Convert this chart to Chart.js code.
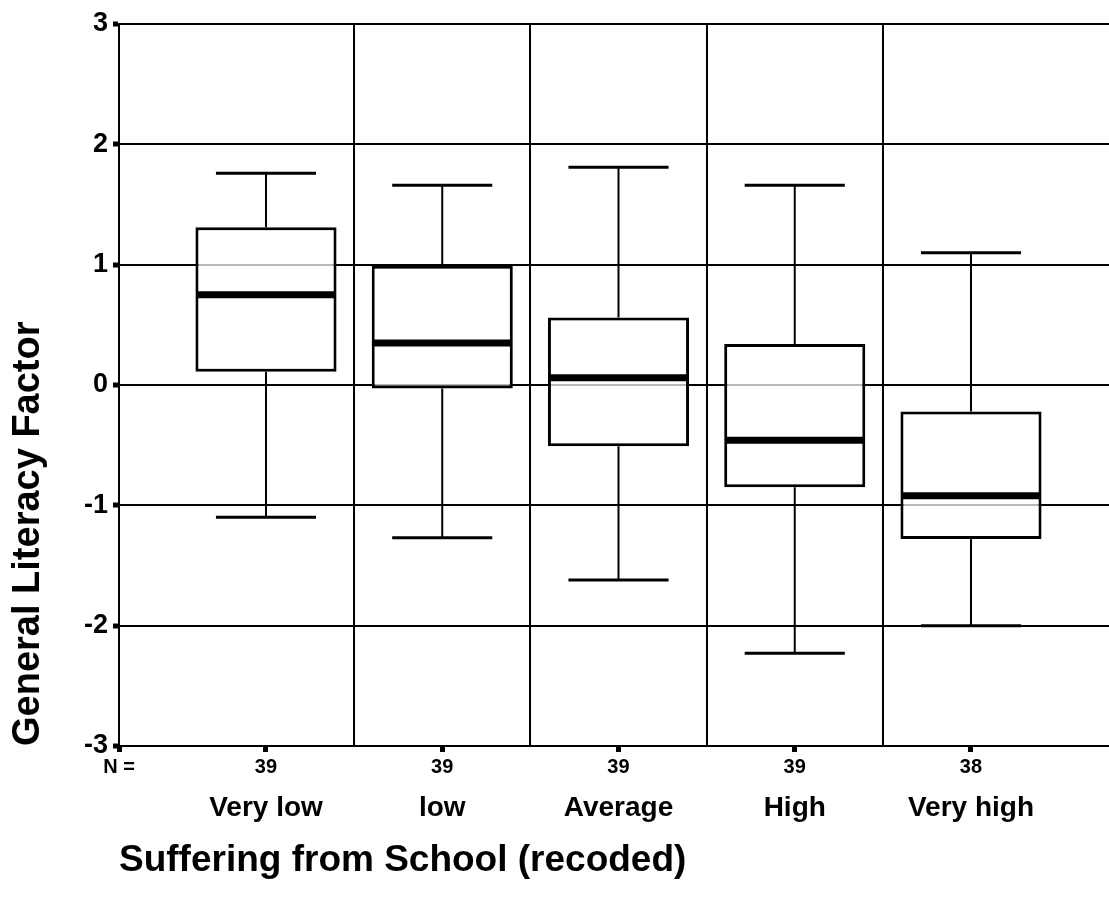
<!DOCTYPE html>
<html lang="en">
<head>
    <meta charset="UTF-8">
    <title>General Literacy Factor by Suffering from School</title>
    <style>
        body {
            margin: 0;
            background-color: #ffffff;
        }
        #boxChart {
            display: block;
        }
    </style>
    <script src="https://cdn.jsdelivr.net/npm/chart.js"></script>
</head>
<body>

    <canvas id="boxChart" width="1109" height="916"></canvas>

    <script>
    // Daten
    const categories = ['Very low', 'low', 'Average', 'High', 'Very high'];
    const nCounts = [39, 39, 39, 39, 38];
    const whiskerLow = [-1.10, -1.27, -1.62, -2.23, -2.00];
    const q1 = [0.11, -0.03, -0.51, -0.85, -1.28];
    const medians = [0.75, 0.35, 0.06, -0.46, -0.92];
    const q3 = [1.31, 0.99, 0.56, 0.34, -0.22];
    const whiskerHigh = [1.76, 1.66, 1.81, 1.66, 1.10];
    const yTicks = [-3, -2, -1, 0, 1, 2, 3];

    const xPos = categories.map((c, i) => i + 1);
    const xMin = 0.166;
    const xMax = 5.783;
    const fontFamily = 'Arial, "Liberation Sans", sans-serif';

    // Whisker und Median über die Skalen zeichnen
    const boxPlotLines = {
        id: 'boxPlotLines',
        afterDatasetsDraw(chart) {
            const { ctx, scales: { x, y } } = chart;
            const bars = chart.getDatasetMeta(0).data;
            const capHalf = (x.getPixelForValue(1.284) - x.getPixelForValue(1));
            ctx.save();
            ctx.strokeStyle = '#000';
            xPos.forEach((pos, i) => {
                const px = x.getPixelForValue(pos);
                const half = bars[i].width / 2;

                // Whisker
                ctx.lineWidth = 2;
                ctx.beginPath();
                ctx.moveTo(px, y.getPixelForValue(q3[i]));
                ctx.lineTo(px, y.getPixelForValue(whiskerHigh[i]));
                ctx.moveTo(px, y.getPixelForValue(q1[i]));
                ctx.lineTo(px, y.getPixelForValue(whiskerLow[i]));
                ctx.stroke();

                // Kappen
                ctx.lineWidth = 3;
                ctx.beginPath();
                ctx.moveTo(px - capHalf, y.getPixelForValue(whiskerHigh[i]));
                ctx.lineTo(px + capHalf, y.getPixelForValue(whiskerHigh[i]));
                ctx.moveTo(px - capHalf, y.getPixelForValue(whiskerLow[i]));
                ctx.lineTo(px + capHalf, y.getPixelForValue(whiskerLow[i]));
                ctx.stroke();

                // Median
                ctx.lineWidth = 7;
                ctx.beginPath();
                ctx.moveTo(px - half + 1, y.getPixelForValue(medians[i]));
                ctx.lineTo(px + half - 1, y.getPixelForValue(medians[i]));
                ctx.stroke();
            });
            ctx.restore();
        }
    };

    const ctx = document.getElementById('boxChart').getContext('2d');
    new Chart(ctx, {
        type: 'bar',
        data: {
            datasets: [{
                label: 'IQR',
                data: xPos.map((pos, i) => ({ x: pos, y: [q1[i], q3[i]] })),
                backgroundColor: 'rgba(255, 255, 255, 0.72)',
                borderColor: '#000',
                borderWidth: 3,
                borderSkipped: false,
                categoryPercentage: 1.0,
                // Ruler nimmt den Abstand zum ersten Tick (min) -> Faktor angepasst
                barPercentage: 0.96,
                xAxisID: 'x',
                yAxisID: 'y'
            }]
        },
        plugins: [boxPlotLines],
        options: {
            responsive: false,
            animation: false,
            layout: { padding: { top: 24, left: 0, right: 0, bottom: 0 } },
            plugins: {
                legend: { display: false },
                tooltip: { enabled: false }
            },
            scales: {
                y: {
                    type: 'linear',
                    min: -3,
                    max: 3,
                    afterBuildTicks: axis => { axis.ticks = yTicks.map(v => ({ value: v })); },
                    afterFit: axis => { axis.width = 119; },
                    grid: {
                        color: '#000',
                        lineWidth: 2,
                        tickLength: 6,
                        tickWidth: 5,
                        tickColor: '#000'
                    },
                    border: { color: '#000', width: 2 },
                    ticks: {
                        color: '#000',
                        padding: 5,
                        font: { family: fontFamily, size: 27, weight: 'bold' }
                    },
                    title: {
                        display: true,
                        text: 'General Literacy Factor',
                        color: '#000',
                        align: 'start',
                        padding: { top: 6, bottom: 0 },
                        font: { family: fontFamily, size: 38, weight: 'bold' }
                    }
                },
                x: {
                    type: 'linear',
                    position: 'bottom',
                    weight: 0,
                    min: xMin,
                    max: xMax,
                    offset: false,
                    afterBuildTicks: axis => {
                        axis.ticks = [axis.min].concat(xPos).map(v => ({ value: v }));
                    },
                    afterFit: axis => { axis.height = 34; },
                    grid: {
                        offset: false,
                        drawOnChartArea: false,
                        tickLength: 6,
                        tickWidth: 5,
                        tickColor: '#000'
                    },
                    border: { color: '#000', width: 2 },
                    ticks: {
                        autoSkip: false,
                        maxRotation: 0,
                        color: '#000',
                        padding: 3,
                        font: { family: fontFamily, size: 20, weight: 'bold' },
                        callback: (value, index) => index === 0 ? 'N =' : String(nCounts[index - 1])
                    }
                },
                xc: {
                    type: 'linear',
                    position: 'bottom',
                    weight: 1,
                    min: xMin,
                    max: xMax,
                    offset: false,
                    afterBuildTicks: axis => { axis.ticks = xPos.map(v => ({ value: v })); },
                    afterFit: axis => { axis.height = 136; },
                    grid: { display: false, offset: false },
                    border: { display: false },
                    ticks: {
                        autoSkip: false,
                        maxRotation: 0,
                        color: '#000',
                        padding: 3,
                        font: { family: fontFamily, size: 28, weight: 'bold' },
                        callback: (value, index) => categories[index]
                    },
                    title: {
                        display: true,
                        text: 'Suffering from School (recoded)',
                        color: '#000',
                        align: 'start',
                        padding: { top: 0, bottom: 33 },
                        font: { family: fontFamily, size: 37, weight: 'bold' }
                    }
                },
                xg: {
                    type: 'linear',
                    position: 'top',
                    min: xMin,
                    max: xMax,
                    offset: false,
                    afterBuildTicks: axis => {
                        axis.ticks = xPos.slice(1).map(v => ({ value: v - 0.5 }));
                    },
                    afterFit: axis => { axis.height = 0; },
                    grid: { color: '#000', lineWidth: 2, drawTicks: false, offset: false },
                    border: { display: false },
                    ticks: { display: false }
                }
            }
        }
    });
    </script>
</body>
</html>
